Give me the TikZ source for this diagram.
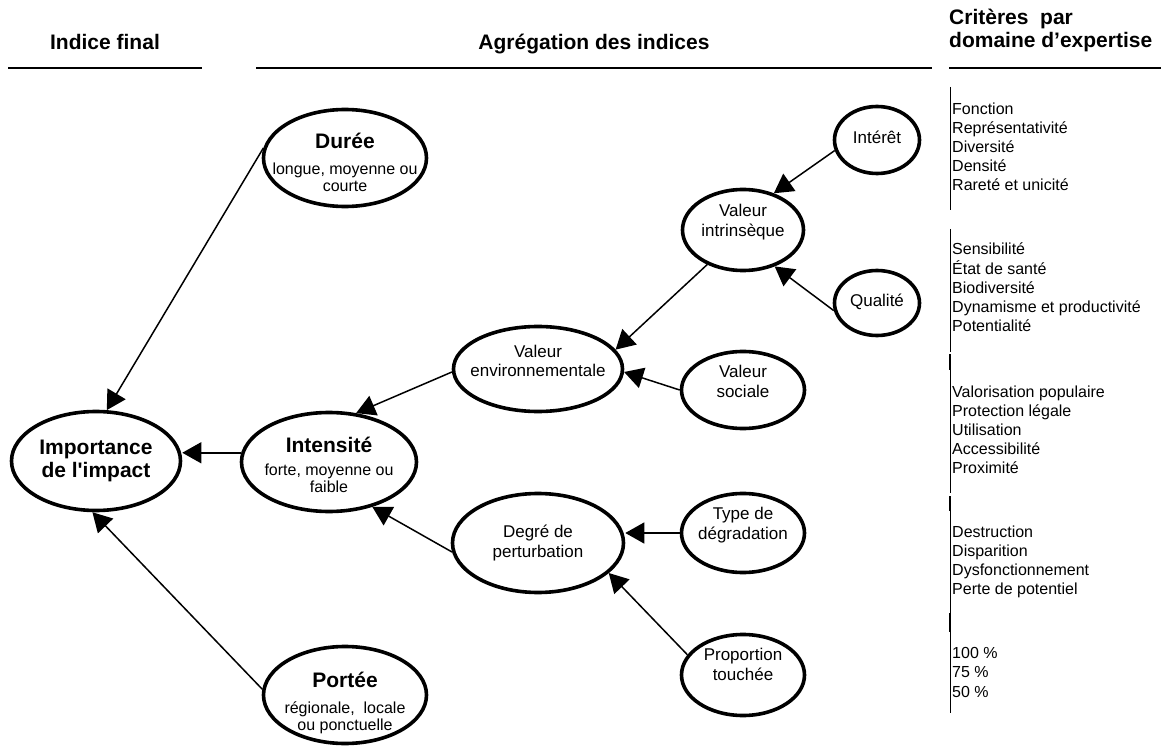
\documentclass[tikz,border=0pt]{standalone}
\usepackage{fontspec}
\setmainfont{Liberation Sans}
\usetikzlibrary{shapes.geometric,arrows.meta}
\newcommand{\ttl}[1]{{\fontsize{21}{23}\selectfont\bfseries #1}}
\newcommand{\inbub}[2][0pt]{\makebox[0pt]{\raisebox{#1}[\height][\depth]{\begin{tabular}{@{}c@{}}#2\end{tabular}}}}

\begin{document}
\begin{tikzpicture}[x=1pt,y=-1pt,
    bub/.style={ellipse,draw,line width=3.6pt,inner sep=0pt,font=\fontsize{17}{20}\selectfont},
    subtxt/.style={font=\fontsize{16}{17}\selectfont},
    bigtxt/.style={font=\fontsize{21}{23}\selectfont\bfseries},
    arr/.style={-{Triangle[length=19pt,width=21pt]},line width=1.5pt},
    hdr/.style={anchor=base,inner sep=0pt,font=\fontsize{21}{23}\selectfont\bfseries},
    headline/.style={line width=2.4pt},
    crit/.style={anchor=base west,inner sep=0pt,font=\fontsize{16}{19}\selectfont},
    critbar/.style={line width=1.3pt}]
    \useasboundingbox (0,0) rectangle (1163,754);

    % titres
    \node[hdr] (h1) at (105,50) {Indice final};
    \node[hdr] (h2) at (594,50) {Agrégation des indices};
    \node[hdr,anchor=base west] (h3) at (949,25)
      {\begin{tabular}[t]{@{}l@{}}Critères\ \ par\\domaine d’expertise\end{tabular}};
    \draw[headline] (8,68) -- (202,68);
    \draw[headline] (256,68) -- (932,68);
    \draw[headline] (949,68) -- (1161,68);

    % indices
    \node[bub,bigtxt,minimum width=169pt,minimum height=99pt] (imp) at (96,461)
      {\inbub{Importance\\de l\textquotesingle impact}};
    \node[bub,subtxt,minimum width=163pt,minimum height=97pt] (dur) at (345,158)
      {\inbub[-7pt]{\ttl{Durée}\\[9pt]longue, moyenne ou\\courte}};
    \node[bub,subtxt,minimum width=175pt,minimum height=99pt] (ints) at (329,462)
      {\inbub[-5pt]{\ttl{Intensité}\\[6pt]forte, moyenne ou\\faible}};
    \node[bub,subtxt,minimum width=163pt,minimum height=97pt] (por) at (345,695)
      {\inbub[-9pt]{\ttl{Portée}\\[9pt]régionale,\ \ locale\\ou ponctuelle}};
    \node[bub,minimum width=169pt,minimum height=85pt] (venv) at (538,369)
      {\inbub[6pt]{Valeur\\environnementale}};
    \node[bub,minimum width=171pt,minimum height=99pt] (deg) at (538,543)
      {\inbub{Degré de\\perturbation}};
    \node[bub,minimum width=121pt,minimum height=81pt] (vint) at (743,230)
      {\inbub[7pt]{Valeur\\intrinsèque}};
    \node[bub,minimum width=123pt,minimum height=77pt] (vsoc) at (743,390)
      {\inbub[7pt]{Valeur\\sociale}};
    \node[bub,minimum width=123pt,minimum height=79pt] (typ) at (743,533)
      {\inbub[8pt]{Type de\\dégradation}};
    \node[bub,minimum width=123pt,minimum height=81pt] (prop) at (743,675)
      {\inbub[9pt]{Proportion\\touchée}};
    \node[bub,minimum width=85pt,minimum height=67pt] (itr) at (877,140) {\inbub{Intérêt}};
    \node[bub,minimum width=85pt,minimum height=65pt] (qual) at (877,303) {\inbub{Qualité}};

    \draw[arr] (dur.173) -- (imp.78);
    \draw[arr] (por.176) -- (imp.-94);
    \draw[arr] (ints.174) -- (ints.174 -| imp.east);
    \draw[arr] (venv.182) -- (ints.61);
    \draw[arr] (deg.186) -- (ints.-46);
    \draw[arr] (vint.224) -- (venv.14);
    \draw[arr] (vsoc.west) -- (venv.-2);
    \draw[arr] (itr.194) -- (vint.50);
    \draw[arr] (qual.190) -- (vint.-49);
    \draw[arr] (typ.west) -- (typ.west -| deg.east);
    \draw[arr] (prop.160) -- (deg.-23);

    % criteres
    \draw[critbar] (950.5,87) -- (950.5,210);
    \draw[critbar] (950.5,229) -- (950.5,352);
    \draw[critbar] (950.5,354) -- (950.5,493);
    \draw[critbar] (950.5,496) -- (950.5,613);
    \draw[critbar] (950.5,613) -- (950.5,713);
    \draw[line width=2.6pt] (950,354) -- (950,370);
    \draw[line width=2.6pt] (950,496) -- (950,511);
    \draw[line width=2.6pt] (950,613) -- (950,632);
    \foreach \t [count=\i from 0] in {Fonction,Représentativité,Diversité,Densité,Rareté et unicité}
      \node[crit] (a\i) at (952,115+18.8*\i) {\t};
    \foreach \t [count=\i from 0] in {Sensibilité,État de santé,Biodiversité,Dynamisme et productivité,Potentialité}
      \node[crit] (b\i) at (952,255+19.2*\i) {\t};
    \foreach \t [count=\i from 0] in {Valorisation populaire,Protection légale,Utilisation,Accessibilité,Proximité}
      \node[crit] (c\i) at (952,397+19.1*\i) {\t};
    \foreach \t [count=\i from 0] in {Destruction,Disparition,Dysfonctionnement,Perte de potentiel}
      \node[crit] (d\i) at (952,537+19.3*\i) {\t};
    \foreach \t [count=\i from 0] in {100 \%,75 \%,50 \%}
      \node[crit] (e\i) at (952,658+19.5*\i) {\t};
\end{tikzpicture}
\end{document}
